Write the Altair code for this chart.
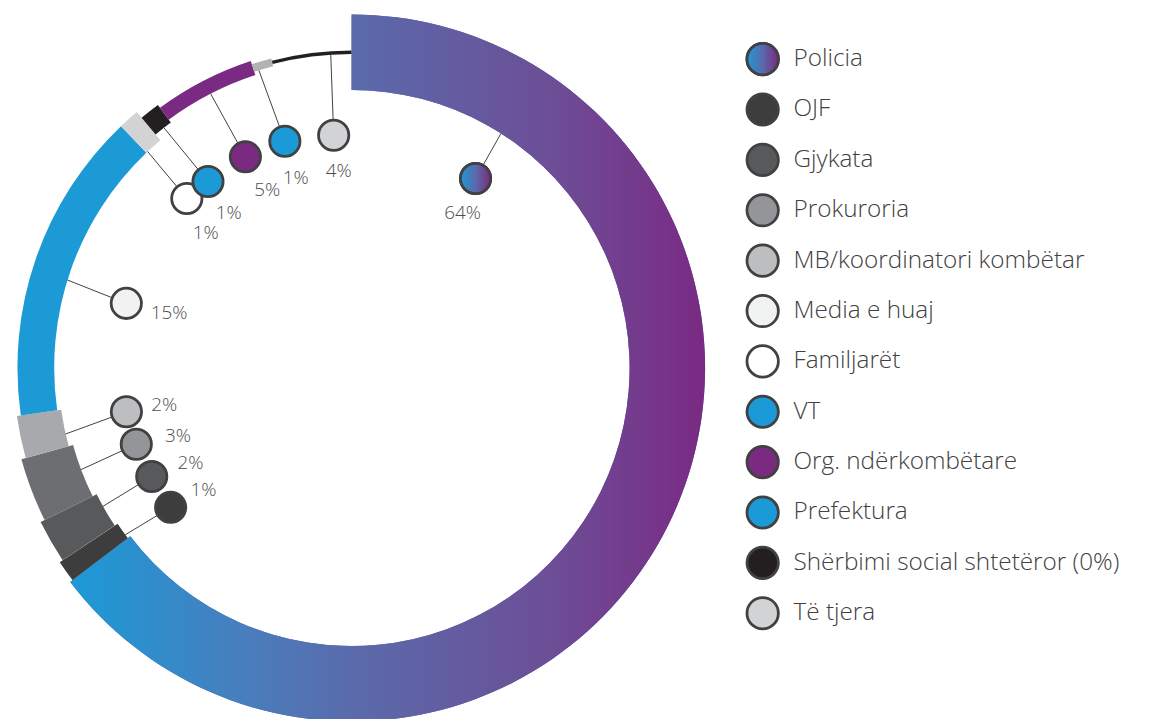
import math
import altair as alt
import pandas as pd

# ---------------- data ----------------
categories = ["Policia", "OJF", "Gjykata", "Prokuroria", "MB/koordinatori kombëtar",
              "Media e huaj", "Familjarët", "VT", "Org. ndërkombëtare", "Prefektura",
              "Shërbimi social shtetëror (0%)", "Të tjera"]
values = [64, 1, 2, 3, 2, 15, 1, 1, 5, 1, 0, 4]

# ---------------- styles ----------------
ring_colors = ["#5a6aab", "#3d3d3e", "#58595b", "#6d6e71", "#a7a9ac", "#1b9ad6",
               "#d1d3d4", "#231f20", "#7a2a82", "#b1b3b6", "#231f20", "#231f20"]
marker_colors = ["#5a6aab", "#3d3d3e", "#58595b", "#939598", "#bcbec0", "#f1f2f2",
                 "#ffffff", "#1b9ad7", "#7b2a82", "#1b9ad7", "#231f20", "#d1d3d4"]
band_width = [76, 70, 63, 54, 45, 37, 37, 22, 15, 8, 3, 3.5]

CX, CY, R_MID = 346, 360, 318
# annotation layout: circle angle, circle radius, leader angle, text dx, text dy
ann = {
    "Policia": (33.2, 228, 32.5, -13, 35),
    "OJF": (232.4, 230, 233.6, 33, -17),
    "Gjykata": (241.5, 229, 240.9, 39, -14),
    "Prokuroria": (250.5, 230, 249.4, 42, -8),
    "MB/koordinatori kombëtar": (259, 231, 257, 38, -7),
    "Media e huaj": (286, 236, 287.2, 43, 10),
    "Familjarët": (315.8, 238, 316.7, 19, 35),
    "VT": (322.4, 237, 322, 21, 32),
    "Org. ndërkombëtare": (333.3, 238, 332.8, 22, 33),
    "Prefektura": (343.6, 238, 342.7, 11, 37),
    "Të tjera": (355.6, 235, 356.2, 5, 36),
}

TEXT = "#414042"
LEG_FONT = "Open Sans"
PCT_FONT = "Open Sans"

df = pd.DataFrame({
    "idx": list(range(len(categories))),
    "cat": categories,
    "value": values,
    "r_in": [R_MID - w / 2 for w in band_width],
    "r_out": [R_MID + w / 2 for w in band_width],
})

rows = []
for i, c in enumerate(categories):
    if c not in ann:
        continue
    ca, cr, la, tdx, tdy = ann[c]
    rin = df.loc[i, "r_in"]
    cx = CX + cr * math.sin(math.radians(ca))
    cy = CY - cr * math.cos(math.radians(ca))
    rows.append({
        "idx": i, "cat": c, "lab": f"{values[i]}%",
        "lx": CX + rin * math.sin(math.radians(la)),
        "ly": CY - rin * math.cos(math.radians(la)),
        "cx": cx, "cy": cy, "tx": cx + tdx, "ty": cy + tdy,
    })
ann_df = pd.DataFrame(rows)

grad_ring = alt.LinearGradient(
    gradient="linear", x1=0, x2=1, y1=0, y2=0,
    stops=[alt.GradientStop(color="#1b9ad7", offset=0),
           alt.GradientStop(color="#4a7dbc", offset=0.28),
           alt.GradientStop(color="#5a6aab", offset=0.45),
           alt.GradientStop(color="#6c4f97", offset=0.75),
           alt.GradientStop(color="#7a2a83", offset=1)])
grad_dot = alt.LinearGradient(
    gradient="linear", x1=0, x2=1, y1=0, y2=0,
    stops=[alt.GradientStop(color="#1b9ad7", offset=0),
           alt.GradientStop(color="#5a6aab", offset=0.5),
           alt.GradientStop(color="#7b2a82", offset=1)])

base = (alt.Chart(df)
        .transform_joinaggregate(total="sum(value)")
        .transform_window(cum="sum(value)", sort=[alt.SortField("idx")], frame=[None, 0])
        .transform_calculate(t0="(datum.cum - datum.value) / datum.total",
                             t1="datum.cum / datum.total"))

arc_enc = dict(
    theta=alt.Theta("t0:Q", scale=alt.Scale(domain=[0, 1], range=[0, 2 * math.pi])),
    theta2="t1:Q",
    radius=alt.Radius("r_out:Q", scale=None),
    radius2=alt.Radius2("r_in:Q"),
    x=alt.value(CX), y=alt.value(CY),
)

ring = base.transform_filter("datum.value > 0").mark_arc().encode(
    color=alt.Color("cat:N", scale=alt.Scale(domain=categories, range=ring_colors), legend=None),
    **arc_enc)
ring_pol = base.transform_filter("datum.idx == 0").mark_arc(fill=grad_ring).encode(**arc_enc)

leaders = alt.Chart(ann_df).mark_rule(color=TEXT, strokeWidth=1).encode(
    x=alt.X("lx:Q", scale=None), y=alt.Y("ly:Q", scale=None),
    x2="cx:Q", y2="cy:Q")

DOT = 930
dots = alt.Chart(ann_df).mark_point(shape="circle", filled=True, size=DOT, opacity=1,
                                    stroke=TEXT, strokeWidth=2.8).encode(
    x=alt.X("cx:Q", scale=None), y=alt.Y("cy:Q", scale=None),
    fill=alt.Fill("cat:N", scale=alt.Scale(domain=categories, range=marker_colors), legend=None),
    order=alt.Order("idx:Q"))
dot_pol = alt.Chart(ann_df).transform_filter("datum.idx == 0").mark_point(
    shape="circle", filled=True, size=DOT, opacity=1, fill=grad_dot,
    stroke=TEXT, strokeWidth=2.8).encode(
    x=alt.X("cx:Q", scale=None), y=alt.Y("cy:Q", scale=None))

pct = alt.Chart(ann_df).mark_text(font=PCT_FONT, fontSize=19, fontWeight=300, color="#4d4d4f",
                                  align="center", baseline="middle").encode(
    x=alt.X("tx:Q", scale=None), y=alt.Y("ty:Q", scale=None), text="lab:N")

LEG = 1000
leg_df = pd.DataFrame({"cat": categories, "idx": list(range(len(categories)))})
leg_y = alt.Y("cat:N", sort=categories, axis=None,
              scale=alt.Scale(domain=categories, range=[49, 607], padding=0))
leg_dots = alt.Chart(leg_df).mark_point(shape="circle", filled=True, size=LEG, opacity=1,
                                        stroke=TEXT, strokeWidth=2.8).encode(
    x=alt.value(760), y=leg_y,
    fill=alt.Fill("cat:N", scale=alt.Scale(domain=categories, range=marker_colors), legend=None))
leg_pol = alt.Chart(leg_df).transform_filter("datum.idx == 0").mark_point(
    shape="circle", filled=True, size=LEG, opacity=1, fill=grad_dot,
    stroke=TEXT, strokeWidth=2.8).encode(x=alt.value(760), y=leg_y)
leg_text = alt.Chart(leg_df).mark_text(font=LEG_FONT, fontSize=24.5, fontWeight=300, color=TEXT,
                                       align="left", baseline="middle").encode(
    x=alt.value(791), y=leg_y, text="cat:N")

chart = (alt.layer(ring, ring_pol, leaders, dots, dot_pol, pct, leg_dots, leg_pol, leg_text)
         .resolve_scale(x="independent", y="independent", fill="independent")
         .properties(width=1142, height=711, padding=0,
                     autosize=alt.AutoSizeParams(type="none"))
         .configure_view(stroke=None))

chart.save("out.html", embed_options={"renderer": "svg", "actions": False})
